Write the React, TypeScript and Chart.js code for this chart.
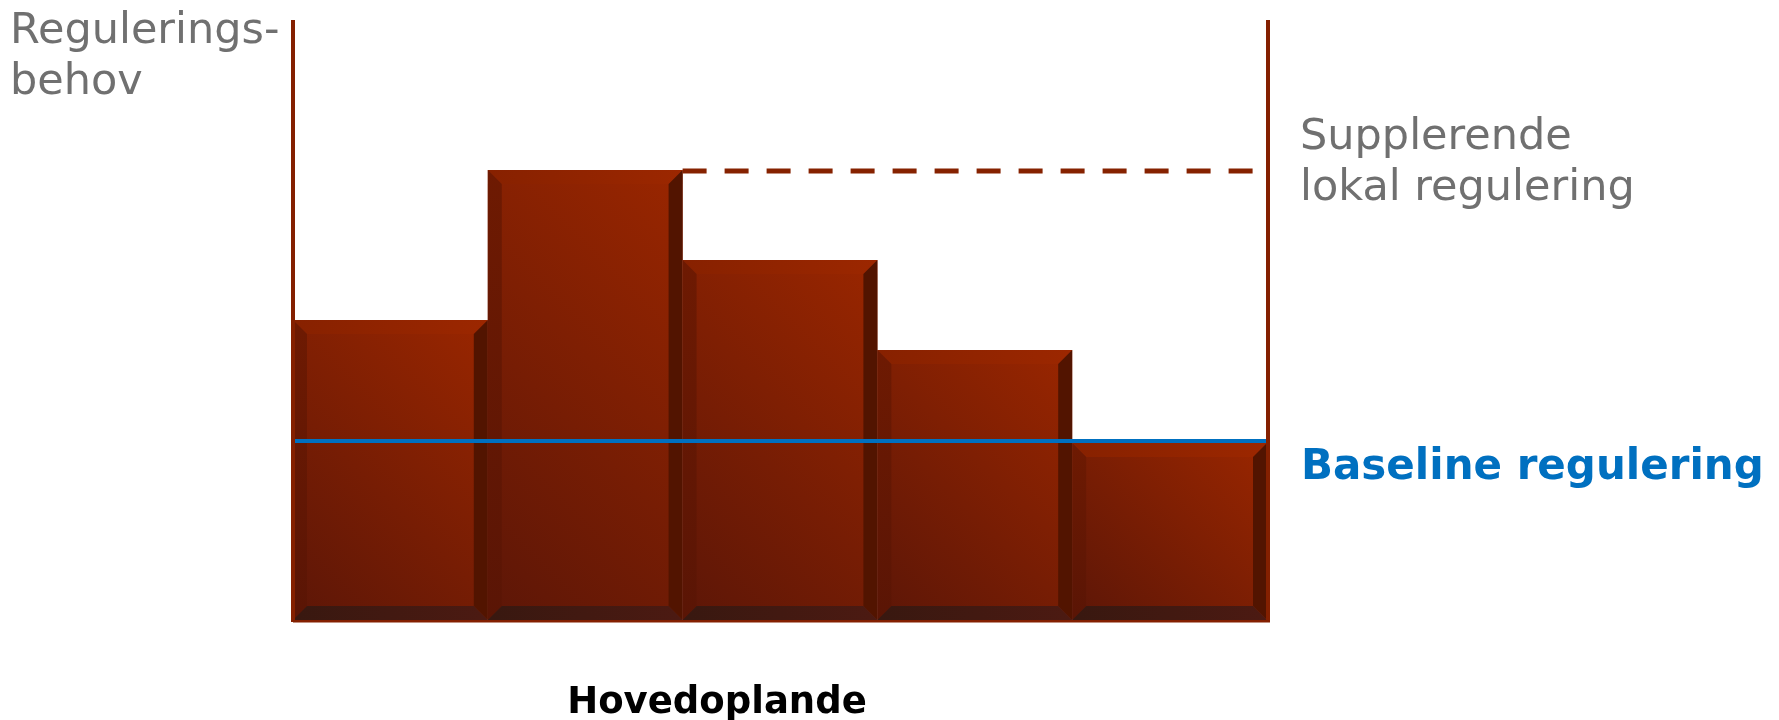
import React, { useEffect, useRef } from "react";
import { Chart, registerables } from "chart.js";

Chart.register(...registerables);

// ---- data ----
const categories = ["1", "2", "3", "4", "5"];
const demand = [5.0, 7.5, 6.0, 4.5, 2.95];
const baselineLevel = 3;
const supplementLevel = 7.5;
const supplementFromIndex = 1;
const yMin = 0;
const yMax = 10;
const yAxisLabel = ["Regulerings-", "behov"];
const supplementLabel = ["Supplerende", "lokal regulering"];
const baselineLabel = "Baseline regulering";
const xAxisLabel = "Hovedoplande";

const FONT = '"DejaVu Sans", Verdana, sans-serif';

const bevelPlugin = {
  id: "bevelDecor",
  afterDatasetsDraw(chart: any) {
    const ctx: CanvasRenderingContext2D = chart.ctx;
    const area = chart.chartArea;
    const yS = chart.scales.y;
    const meta = chart.getDatasetMeta(0);
    const bv = 14;

    ctx.save();
    meta.data.forEach((el: any) => {
      const p = el.getProps(["x", "y", "base", "width"], true);
      const l = p.x - p.width / 2;
      const r = p.x + p.width / 2;
      const t = p.y;
      const b = p.base;
      const w = r - l;
      const h = b - t;
      const d = (w + h) / 2;

      // face (45° diagonal gradient, dark bottom-left -> bright top-right)
      const g = ctx.createLinearGradient(l, b, l + d, b - d);
      g.addColorStop(0, "#5c1607");
      g.addColorStop(1, "#9a2600");
      ctx.fillStyle = g;
      ctx.fillRect(l, t, w, h);

      // top bevel
      const gt = ctx.createLinearGradient(l, t, r, t);
      gt.addColorStop(0, "#872100");
      gt.addColorStop(1, "#9c2700");
      ctx.fillStyle = gt;
      ctx.beginPath();
      ctx.moveTo(l, t);
      ctx.lineTo(r, t);
      ctx.lineTo(r - bv, t + bv);
      ctx.lineTo(l + bv, t + bv);
      ctx.closePath();
      ctx.fill();

      // left bevel
      const gl = ctx.createLinearGradient(l, t, l, b);
      gl.addColorStop(0, "#6e1a02");
      gl.addColorStop(1, "#5a1505");
      ctx.fillStyle = gl;
      ctx.beginPath();
      ctx.moveTo(l, t);
      ctx.lineTo(l + bv, t + bv);
      ctx.lineTo(l + bv, b - bv);
      ctx.lineTo(l, b);
      ctx.closePath();
      ctx.fill();

      // right bevel
      ctx.fillStyle = "#521400";
      ctx.beginPath();
      ctx.moveTo(r, t);
      ctx.lineTo(r, b);
      ctx.lineTo(r - bv, b - bv);
      ctx.lineTo(r - bv, t + bv);
      ctx.closePath();
      ctx.fill();

      // bottom bevel
      const gb = ctx.createLinearGradient(l, b, r, b);
      gb.addColorStop(0, "#381810");
      gb.addColorStop(1, "#4c1a12");
      ctx.fillStyle = gb;
      ctx.beginPath();
      ctx.moveTo(l, b);
      ctx.lineTo(l + bv, b - bv);
      ctx.lineTo(r - bv, b - bv);
      ctx.lineTo(r, b);
      ctx.closePath();
      ctx.fill();
    });

    // dashed supplementary line
    const startEl = meta.data[supplementFromIndex].getProps(["x", "width"], true);
    const yDash = yS.getPixelForValue(supplementLevel) + 1;
    ctx.strokeStyle = "#862200";
    ctx.lineWidth = 5;
    ctx.setLineDash([24, 18]);
    ctx.beginPath();
    ctx.moveTo(startEl.x + startEl.width / 2, yDash);
    ctx.lineTo(area.right - 4, yDash);
    ctx.stroke();
    ctx.setLineDash([]);

    // baseline
    const yBase = yS.getPixelForValue(baselineLevel) + 1;
    ctx.strokeStyle = "#0070c0";
    ctx.lineWidth = 4;
    ctx.beginPath();
    ctx.moveTo(area.left, yBase);
    ctx.lineTo(area.right, yBase);
    ctx.stroke();

    // axes
    ctx.strokeStyle = "#842000";
    ctx.lineWidth = 4;
    ctx.beginPath();
    ctx.moveTo(area.left, area.top);
    ctx.lineTo(area.left, area.bottom + 2);
    ctx.moveTo(area.right + 1, area.top);
    ctx.lineTo(area.right + 1, area.bottom + 2);
    ctx.stroke();
    ctx.lineWidth = 2.5;
    ctx.beginPath();
    ctx.moveTo(area.left, area.bottom + 1.2);
    ctx.lineTo(area.right + 3, area.bottom + 1.2);
    ctx.stroke();

    // texts
    ctx.textBaseline = "alphabetic";
    ctx.textAlign = "left";
    ctx.fillStyle = "#707070";
    ctx.font = `43px ${FONT}`;
    ctx.fillText(yAxisLabel[0], 10, 43);
    ctx.fillText(yAxisLabel[1], 10, 94);
    ctx.fillText(supplementLabel[0], area.right + 33, 149);
    ctx.fillText(supplementLabel[1], area.right + 33, 200);

    ctx.fillStyle = "#0070c0";
    ctx.font = `bold 42px ${FONT}`;
    ctx.fillText(baselineLabel, area.right + 34, 479);

    ctx.fillStyle = "#000000";
    ctx.font = `bold 37px ${FONT}`;
    ctx.textAlign = "center";
    ctx.fillText(xAxisLabel, 717, 713);
    ctx.restore();
  },
};

export default function App() {
  const ref = useRef<HTMLCanvasElement | null>(null);

  useEffect(() => {
    if (!ref.current) return;
    const chart = new Chart(ref.current, {
      type: "bar",
      data: {
        labels: categories,
        datasets: [
          {
            data: demand,
            backgroundColor: "rgba(0,0,0,0)",
            borderWidth: 0,
            categoryPercentage: 1,
            barPercentage: 1,
          },
        ],
      },
      options: {
        responsive: false,
        animation: false,
        events: [],
        layout: { padding: { left: 293, right: 512, top: 20, bottom: 100 } },
        plugins: {
          legend: { display: false },
          tooltip: { enabled: false },
          title: { display: false },
        },
        scales: {
          x: { display: false },
          y: { display: false, min: yMin, max: yMax },
        },
      },
      plugins: [bevelPlugin],
    });
    return () => chart.destroy();
  }, []);

  return (
    <div style={{ position: "fixed", left: 0, top: 0, width: 1779, height: 720, background: "#ffffff" }}>
      <canvas ref={ref} width={1779} height={720} style={{ display: "block" }} />
    </div>
  );
}
